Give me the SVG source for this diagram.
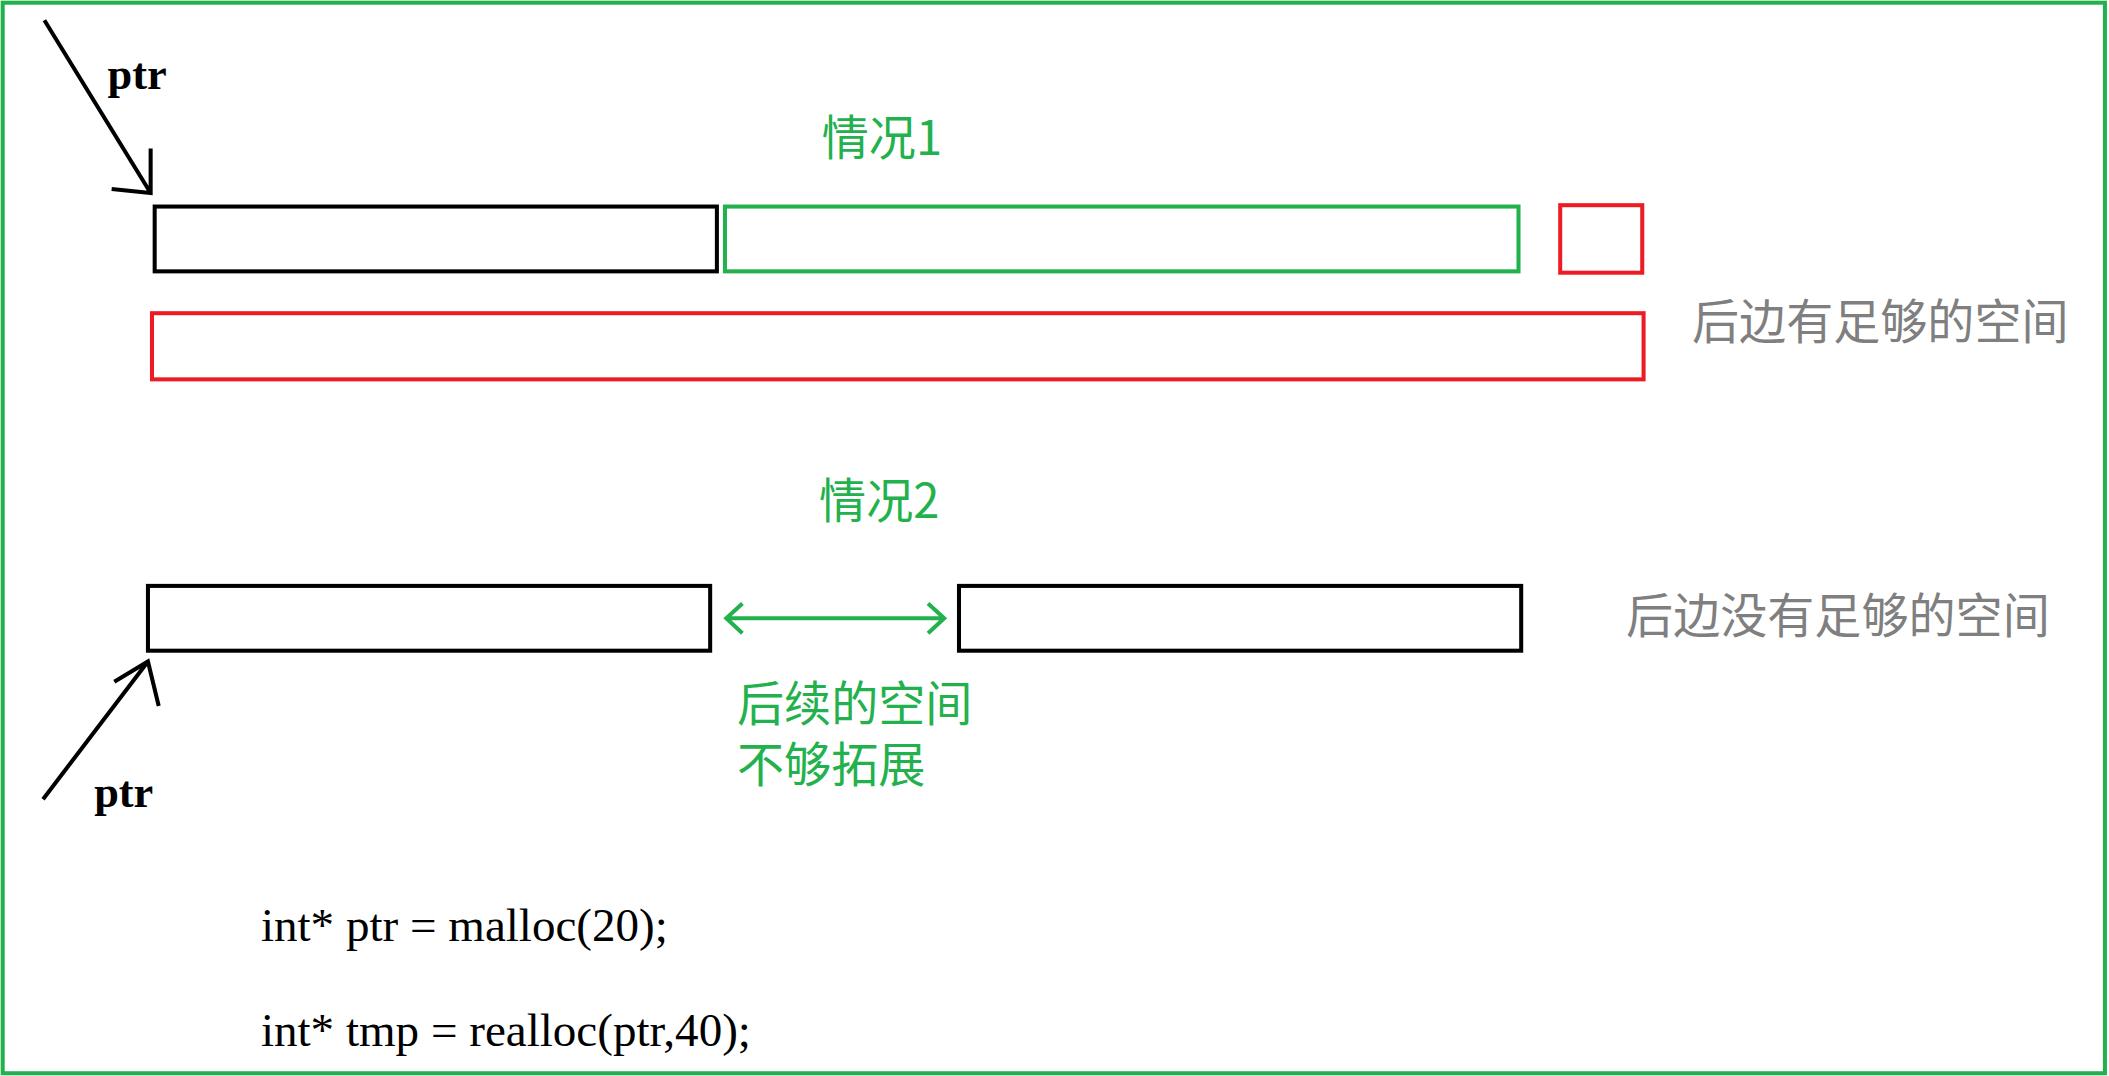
<svg xmlns="http://www.w3.org/2000/svg" width="2109" height="1076" viewBox="0 0 2109 1076">
<style>
.bk{fill:none;stroke:#000;stroke-width:3}
.gr{fill:none;stroke:#22b14c;stroke-width:3}
.rd{fill:none;stroke:#ed1c24;stroke-width:3}
.cn{font-family:"Noto Sans CJK SC",sans-serif;font-size:35px}
.g{fill:#22b14c}.gy{fill:#7f7f7f}
.ptr{font-family:"Liberation Serif",serif;font-weight:bold;font-size:33px}
.code{font-family:"Liberation Serif",serif;font-size:35px}
</style>
<rect width="2109" height="1076" fill="#fff"/>
<g transform="scale(1.345 1.35)">
<rect x="2" y="2" width="1563" height="793" class="gr"/>
<g id="connectors">
<path d="M33 15 L112 143 M112 110 L112 143 L83 140" class="bk"/>
<path d="M32 592 L110 490 M85 505 L110 490 L118 523" class="bk"/>
<path d="M540 458 L702 458 M552 447 L540 458 L552 469 M690 447 L702 458 L690 469" class="gr"/>
</g>
<g id="n1"><rect x="115" y="153" width="418" height="48" class="bk"/></g>
<g id="n2"><rect x="539" y="153" width="590" height="48" class="gr"/></g>
<g id="n3"><rect x="1160" y="152" width="61" height="50" class="rd"/></g>
<g id="n4"><rect x="113" y="232" width="1109" height="49" class="rd"/></g>
<g id="n5"><rect x="110" y="434" width="418" height="48" class="bk"/></g>
<g id="n6"><rect x="713" y="434" width="418" height="48" class="bk"/></g>
<text x="80" y="66" class="ptr">ptr</text>
<text x="70" y="598" class="ptr">ptr</text>
<text x="611" y="115" class="cn g">情况1</text>
<text x="609" y="384" class="cn g">情况2</text>
<text x="1258" y="251" class="cn gy">后边有足够的空间</text>
<text x="1209" y="469" class="cn gy">后边没有足够的空间</text>
<text x="548" y="534" class="cn g">后续的空间</text>
<text x="548" y="579" class="cn g">不够拓展</text>
<text x="194" y="697" class="code">int* ptr = malloc(20);</text>
<text x="194" y="775" class="code">int* tmp = realloc(ptr,40);</text>
</g>
</svg>
